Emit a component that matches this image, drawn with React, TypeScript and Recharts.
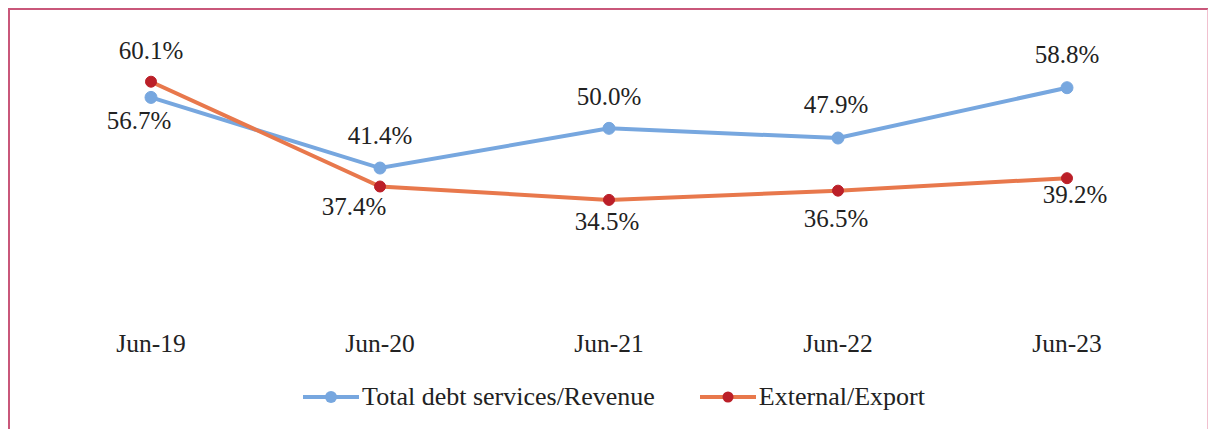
import React from 'react';
import { LineChart, Line, XAxis, YAxis, Legend, LabelList } from 'recharts';

const periods = ['Jun-19', 'Jun-20', 'Jun-21', 'Jun-22', 'Jun-23'];
const debtServiceRevenue = [56.7, 41.4, 50.0, 47.9, 58.8];
const externalExport = [60.1, 37.4, 34.5, 36.5, 39.2];

// label nudges (px) relative to each point
const blueLabelDx = [-12, 0, 0, -2, 0];
const blueLabelDy = [32, -24, -23, -25, -25];
const redLabelDx = [0, -26, -2, -2, 8];
const redLabelDy = [-23, 28, 30, 36, 25];

const BLUE = '#77a7df';
const ORANGE = '#e8784c';
const RED = '#bb1f28';
const FONT = "'Liberation Serif', 'Times New Roman', serif";

const data = periods.map((p, i) => ({
    period: p,
    debt: debtServiceRevenue[i],
    ext: externalExport[i],
}));

const makeLabel = (dxs: number[], dys: number[]) => (props: any) => {
    const { x, y, value, index } = props;
    return (
        <text
            x={x + dxs[index]}
            y={y + dys[index]}
            textAnchor="middle"
            fontSize={25}
            fontFamily={FONT}
            fill="#222"
        >
            {`${Number(value).toFixed(1)}%`}
        </text>
    );
};

const LegendContent = () => {
    const items = [
        { name: 'Total debt services/Revenue', line: BLUE, dot: BLUE, r: 6 },
        { name: 'External/Export', line: ORANGE, dot: RED, r: 5.5 },
    ];
    return (
        <div style={{ height: 80, display: 'flex', justifyContent: 'center', alignItems: 'flex-start', paddingLeft: 10 }}>
            {items.map((it, i) => (
                <div
                    key={it.name}
                    style={{ display: 'flex', alignItems: 'center', marginTop: 33, marginLeft: i ? 45 : 0 }}
                >
                    <svg width={56} height={16}>
                        <line x1={0} y1={8} x2={56} y2={8} stroke={it.line} strokeWidth={4} />
                        <circle cx={28} cy={8} r={it.r} fill={it.dot} />
                    </svg>
                    <span style={{ fontFamily: FONT, fontSize: 26, color: '#222', marginLeft: 3 }}>{it.name}</span>
                </div>
            ))}
        </div>
    );
};

export default function App() {
    return (
        <div style={{ position: 'absolute', left: 0, top: 0, width: 1208, height: 429, background: '#fff', overflow: 'hidden' }}>
            <div
                style={{
                    position: 'absolute',
                    left: 8,
                    top: 8,
                    width: 1197,
                    height: 450,
                    borderTop: '2px solid #c9577a',
                    borderLeft: '2px solid #c9577a',
                    borderRight: '2px solid #f1c0cf',
                }}
            />
            <div style={{ position: 'absolute', left: 0, top: 0 }}>
                <LineChart width={1208} height={429} data={data} margin={{ top: 36, right: 141, left: 151, bottom: 0 }}>
                    <XAxis
                        dataKey="period"
                        axisLine={false}
                        tickLine={false}
                        height={36}
                        tickMargin={15}
                        tick={{ fontSize: 25.5, fontFamily: FONT, fill: '#222' }}
                        interval={0}
                    />
                    <YAxis hide domain={[10, 70]} />
                    <Legend verticalAlign="bottom" content={<LegendContent />} />
                    <Line
                        dataKey="debt"
                        name="Total debt services/Revenue"
                        stroke={BLUE}
                        strokeWidth={4}
                        dot={{ r: 6, fill: BLUE, stroke: BLUE, strokeWidth: 1 }}
                        isAnimationActive={false}
                    >
                        <LabelList dataKey="debt" content={makeLabel(blueLabelDx, blueLabelDy)} />
                    </Line>
                    <Line
                        dataKey="ext"
                        name="External/Export"
                        stroke={ORANGE}
                        strokeWidth={4}
                        dot={{ r: 5.5, fill: RED, stroke: RED, strokeWidth: 1 }}
                        isAnimationActive={false}
                    >
                        <LabelList dataKey="ext" content={makeLabel(redLabelDx, redLabelDy)} />
                    </Line>
                </LineChart>
            </div>
        </div>
    );
}
